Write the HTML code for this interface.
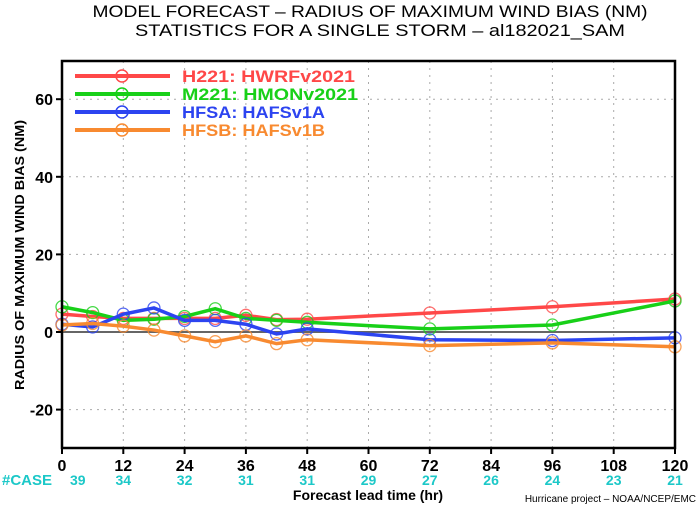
<!DOCTYPE html>
<html><head><meta charset="utf-8"><style>
body{margin:0;background:#fff;}
svg text{font-family:"Liberation Sans",sans-serif;}
</style></head><body>
<svg id="chart" width="700" height="506" viewBox="0 0 700 506" xmlns="http://www.w3.org/2000/svg">
<text x="370" y="17" text-anchor="middle" font-size="17" fill="#000" textLength="555" lengthAdjust="spacingAndGlyphs">MODEL FORECAST – RADIUS OF MAXIMUM WIND BIAS (NM)</text>
<text x="380" y="36" text-anchor="middle" font-size="17" fill="#000" textLength="490" lengthAdjust="spacingAndGlyphs">STATISTICS FOR A SINGLE STORM – al182021_SAM</text>
<g id="grid"></g>
<g id="series"></g>
<rect x="62" y="61" width="613" height="387" fill="none" stroke="#000" stroke-width="2.5"/>
<g id="axes"></g>
<text transform="translate(24,255) rotate(-90)" text-anchor="middle" font-size="13" font-weight="bold" textLength="270" lengthAdjust="spacingAndGlyphs">RADIUS OF MAXIMUM WIND BIAS (NM)</text>
<text x="2" y="485" font-size="15" font-weight="bold" fill="#1cc8c8">#CASE</text>
<text x="368" y="500" text-anchor="middle" font-size="14" font-weight="bold">Forecast lead time (hr)</text>
<text x="696" y="502" text-anchor="end" font-size="10">Hurricane project – NOAA/NCEP/EMC</text>
<g id="legend"></g>
</svg>
<script>
const leads=[0,6,12,18,24,30,36,42,48,72,96,120];
const h221=[4.6,4,3.5,3.5,3.5,3.5,4.3,3.2,3.3,4.9,6.5,8.5];
const m221=[6.5,5,3,3.3,4,6,3.5,3,2.5,0.8,1.8,8];
const hfsa=[2,1.3,4.6,6.2,3,3,2,-0.5,0.8,-2,-2.2,-1.5];
const hfsb=[1.8,2.2,1.5,0.5,-1,-2.5,-1,-3,-2,-3.5,-2.8,-3.8];
const xTicks=[0,12,24,36,48,60,72,84,96,108,120];
const cases=[39,34,32,31,31,29,27,26,24,23,21];
const yTicks=[-20,0,20,40,60];
const names=["H221: HWRFv2021","M221: HMONv2021","HFSA: HAFSv1A","HFSB: HAFSv1B"];
const NS="http://www.w3.org/2000/svg";
const X=v=>62+v/120*613, Y=v=>332-v*3.88;
function mk(t,a,p){const e=document.createElementNS(NS,t);for(const k in a)e.setAttribute(k,a[k]);p.appendChild(e);return e;}
const grid=document.getElementById('grid'),axes=document.getElementById('axes');
xTicks.forEach((t,i)=>{
 if(t>0&&t<120){const g=mk('line',{x1:X(t),x2:X(t),y1:61,y2:448,stroke:'#aaa','stroke-dasharray':'2,5'},grid);
 }
 const tk=mk('line',{x1:X(t),x2:X(t),y1:448,y2:454,stroke:'#000','stroke-width':2},axes);
 
 const l=mk('text',{x:X(t),y:471,'text-anchor':'middle','font-size':16,'font-weight':'bold'},axes);l.textContent=t;
 
 const c=mk('text',{x:X(t)+(i==0?8:0),y:485,'text-anchor':i==0?'start':'middle','font-size':14,'font-weight':'bold',fill:'#1cc8c8'},axes);c.textContent=cases[i];
 
});
yTicks.forEach(t=>{
 const g=mk('line',{x1:62,x2:675,y1:Y(t),y2:Y(t),stroke:t==0?'#666':'#aaa','stroke-width':t==0?2:1,'stroke-dasharray':t==0?'':'2,5'},grid);
 
 const tk=mk('line',{x1:56,x2:62,y1:Y(t),y2:Y(t),stroke:'#000','stroke-width':2},axes);
 
 const l=mk('text',{x:53,y:Y(t)+6,'text-anchor':'end','font-size':16,'font-weight':'bold'},axes);l.textContent=t;
 
});
const series=[[h221,'#ff4848','h221'],[m221,'#18d018','m221'],[hfsa,'#2c44f0','hfsa'],[hfsb,'#f88a30','hfsb']];
const legW=[173,176,143,143];
const sg=document.getElementById('series'),lg=document.getElementById('legend');
series.forEach(([d,c,n],si)=>{
 const pl=mk('polyline',{points:d.map((v,i)=>X(leads[i])+','+Y(v)).join(' '),fill:'none',stroke:c,'stroke-width':3.5},sg);
 
 d.forEach((v,i)=>{const m=mk('circle',{cx:X(leads[i]),cy:Y(v),r:6,fill:'none',stroke:c,'stroke-width':1.3,opacity:0.8},sg);
 });
 const y=76+si*18;
 const ll=mk('line',{x1:75,x2:170,y1:y,y2:y,stroke:c,'stroke-width':4},lg);
 
 const lc=mk('circle',{cx:122,cy:y,r:6,fill:'none',stroke:c,'stroke-width':1.5},lg);
 
 const lt=mk('text',{x:182,y:y+6,'font-size':17,'font-weight':'bold',fill:c,textLength:legW[si],lengthAdjust:'spacingAndGlyphs'},lg);lt.textContent=names[si];
 
});
</script>
</body></html>
